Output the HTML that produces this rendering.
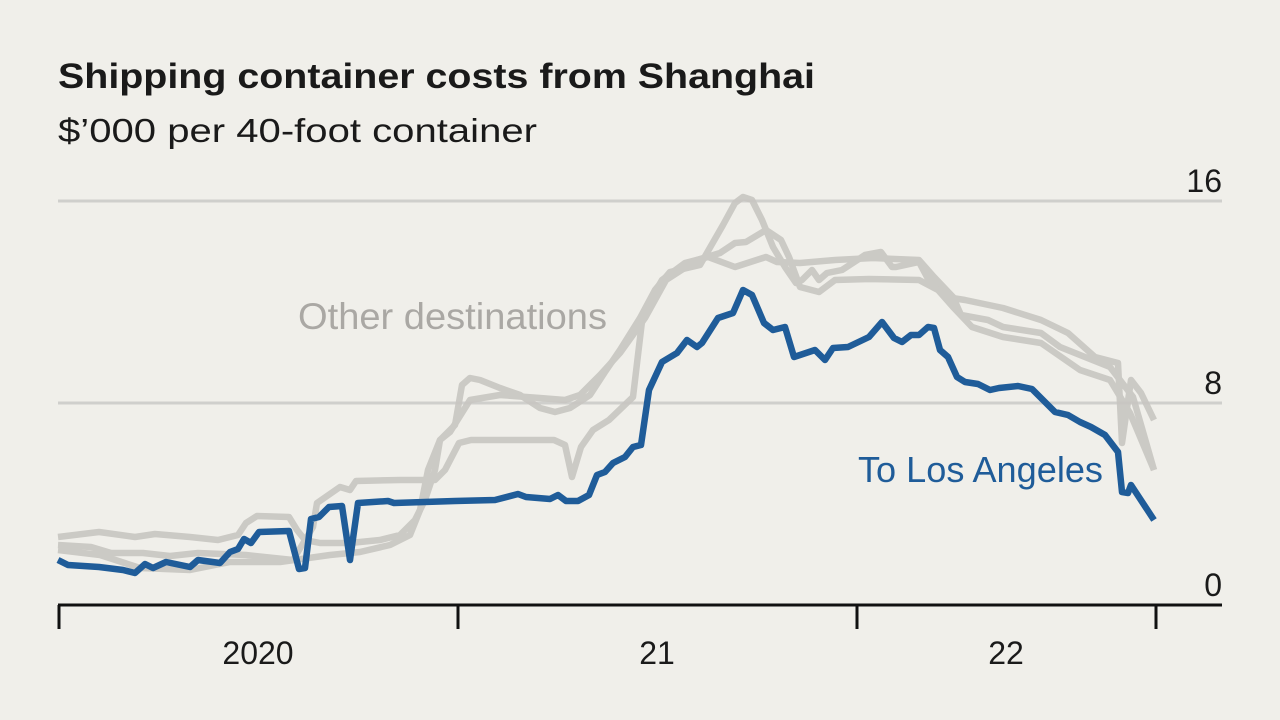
<!DOCTYPE html>
<html><head><meta charset="utf-8"><style>
html,body{margin:0;padding:0;background:#f0efea;}
svg{display:block;}
</style></head><body>
<svg width="1280" height="720" viewBox="0 0 1280 720" xmlns="http://www.w3.org/2000/svg">
<rect width="1280" height="720" fill="#f0efea"/>
<text x="58" y="88" font-family="Liberation Sans, sans-serif" font-weight="bold" font-size="35" fill="#1a1a1a" textLength="757" lengthAdjust="spacingAndGlyphs">Shipping container costs from Shanghai</text>
<text x="58" y="142" font-family="Liberation Sans, sans-serif" font-size="33" fill="#1a1a1a" textLength="479" lengthAdjust="spacingAndGlyphs">$’000 per 40-foot container</text>
<line x1="58" y1="201" x2="1222" y2="201" stroke="#cfcfcc" stroke-width="3"/>
<line x1="58" y1="403" x2="1222" y2="403" stroke="#cfcfcc" stroke-width="3"/>
<g font-family="Liberation Sans, sans-serif" font-size="32" fill="#1a1a1a" text-anchor="end">
<text x="1222" y="192">16</text><text x="1222" y="394">8</text><text x="1222" y="596">0</text>
</g>
<g fill="none" stroke="#c8c6c1" stroke-width="6.5" stroke-linejoin="round" opacity="0.9">
<polyline points="58,537 99,532 135,537 155,534 190,537 218,540 238,535 246,523 257,516 289,517 297,530 305,540 320,543 350,543 380,540 400,535 415,520 425,500 435,470 440,440 455,425 462,385 470,378 480,380 500,388 520,395 540,408 555,412 570,408 590,395 605,372 620,350 640,318 655,290 670,272 700,265 723,225 735,203 743,197 752,200 762,220 773,247 785,267 796,283 802,280 812,270 819,280 827,273 842,270 865,255 881,252 892,267 896,267 919,262 927,277 946,297 965,300 1003,308 1041,320 1068,333 1095,357 1118,363 1122,443 1131,380 1141,393 1154,420"/>
<polyline points="58,545 91,547 111,553 143,553 170,556 198,553 246,555 293,560 313,527 317,503 340,487 350,490 356,481 400,480 435,480 445,470 459,443 471,440 554,440 565,445 572,477 581,447 593,430 609,420 633,397 643,313 662,280 685,263 708,257 735,267 766,257 777,262 800,263 835,260 873,258 919,260 934,277 953,297 961,315 988,320 1003,327 1041,333 1060,347 1110,367 1133,397 1154,470"/>
<polyline points="58,550 100,555 140,568 190,570 230,562 280,562 330,555 360,552 390,545 410,535 420,510 428,470 440,440 450,432 470,400 500,395 540,398 565,400 580,395 600,375 620,353 645,318 666,280 697,260 720,253 735,243 746,242 766,230 781,240 789,257 800,287 819,292 835,280 869,279 919,280 938,290 953,307 972,327 1003,337 1041,343 1080,370 1110,380 1130,413 1154,470"/>
</g>
<text x="298" y="329" font-family="Liberation Sans, sans-serif" font-size="37" fill="#aaa8a4" textLength="309" lengthAdjust="spacingAndGlyphs">Other destinations</text>
<polyline fill="none" stroke="#1f5c99" stroke-width="6.5" stroke-linejoin="round" points="58,560 68,565 99,567 123,570 135,573 145,564 153,568 166,562 190,567 198,560 220,563 230,552 238,549 244,539 251,543 259,532 289,531 299,569 305,568 311,519 319,517 329,507 342,506 350,560 358,503 388,501 394,503 455,501 495,500 518,494 526,497 550,499 558,495 566,501 578,501 589,495 597,475 605,472 613,463 625,457 633,447 641,445 649,390 662,362 677,353 687,340 697,347 702,343 718,318 733,313 743,290 752,295 764,323 773,330 785,327 794,357 815,350 825,360 833,348 848,347 869,337 882,322 894,338 902,342 911,335 919,335 928,327 934,328 940,350 948,357 957,377 965,382 978,384 990,390 999,388 1018,386 1032,389 1043,400 1055,412 1068,415 1080,422 1091,427 1105,435 1118,452 1122,492 1128,493 1131,485 1154,520"/>
<text x="858" y="482" font-family="Liberation Sans, sans-serif" font-size="36" fill="#1f5c99" textLength="245" lengthAdjust="spacingAndGlyphs">To Los Angeles</text>
<line x1="58" y1="605" x2="1222" y2="605" stroke="#111" stroke-width="3"/>
<g stroke="#111" stroke-width="3">
<line x1="59" y1="605" x2="59" y2="629"/><line x1="458" y1="605" x2="458" y2="629"/><line x1="857" y1="605" x2="857" y2="629"/><line x1="1156" y1="605" x2="1156" y2="629"/>
</g>
<g font-family="Liberation Sans, sans-serif" font-size="32" fill="#1a1a1a" text-anchor="middle">
<text x="258" y="664">2020</text><text x="657" y="664">21</text><text x="1006" y="664">22</text>
</g>
</svg>
</body></html>
